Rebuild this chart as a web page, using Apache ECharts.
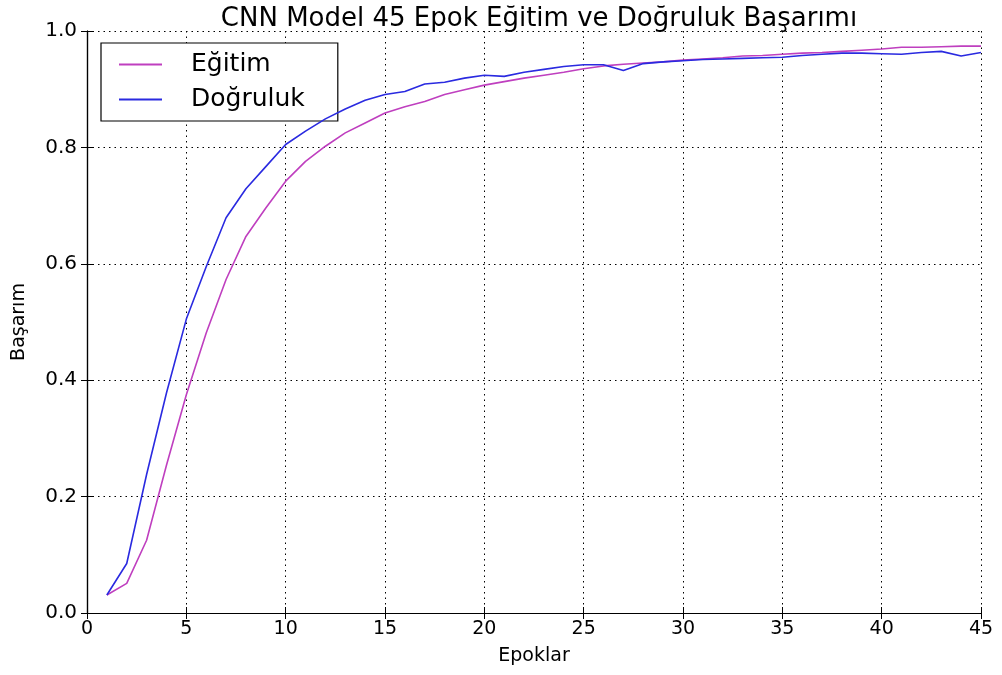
<!DOCTYPE html>
<html>
<head>
<meta charset="utf-8">
<script src="https://cdn.jsdelivr.net/npm/echarts@6/dist/echarts.min.js"></script>
<style>
  html, body { margin: 0; padding: 0; background: #fff; }
  #main { width: 1002px; height: 675px; }
</style>
</head>
<body>
<div id="main"></div>
<script>
// epok numaralari
var epochs = [];
for (var i = 1; i <= 45; i++) epochs.push(i);

// Egitim (train) basarimi
var egitim = [
  0.031, 0.051, 0.125, 0.254, 0.375, 0.481, 0.573, 0.647, 0.696, 0.742,
  0.776, 0.802, 0.825, 0.842, 0.859, 0.870, 0.879, 0.891, 0.899, 0.907,
  0.913, 0.919, 0.924, 0.929, 0.935, 0.940, 0.943, 0.945, 0.947, 0.950,
  0.952, 0.954, 0.957, 0.958, 0.960, 0.962, 0.963, 0.965, 0.967, 0.969,
  0.972, 0.972, 0.973, 0.974, 0.974
];

// Dogruluk (validation) basarimi
var dogruluk = [
  0.031, 0.085, 0.238, 0.378, 0.505, 0.595, 0.679, 0.729, 0.767, 0.805,
  0.828, 0.849, 0.866, 0.881, 0.891, 0.896, 0.909, 0.912, 0.919, 0.924,
  0.922, 0.929, 0.934, 0.939, 0.942, 0.942, 0.932, 0.944, 0.947, 0.949,
  0.951, 0.952, 0.953, 0.954, 0.955, 0.958, 0.960, 0.962, 0.962, 0.961,
  0.960, 0.963, 0.965, 0.957, 0.963
];

var xTicks = [0, 5, 10, 15, 20, 25, 30, 35, 40, 45];

function pairs(vals) {
  return epochs.map(function (e, i) { return [e, vals[i]]; });
}

var font = 'DejaVu Sans';
var axisLine = { show: true, lineStyle: { color: '#000', width: 1.2 } };
var tickIn = { show: true, inside: true, length: 6, lineStyle: { color: '#000', width: 1 } };
var dotted = { show: true, lineStyle: { color: '#000', type: [1.5, 4], width: 1 } };

var myChart = echarts.init(document.getElementById('main'));
var option = {
  backgroundColor: '#fff',
  animation: false,
  title: {
    text: 'CNN Model 45 Epok Eğitim ve Doğruluk Başarımı',
    left: 534,
    textAlign: 'center',
    top: 1,
    textStyle: { fontFamily: font, fontSize: 26, fontWeight: 'normal', color: '#000' }
  },
  legend: {
    left: 101,
    top: 43,
    orient: 'vertical',
    padding: [9, 33, 9, 18],
    itemGap: 10,
    itemWidth: 43,
    itemHeight: 2,
    icon: 'rect',
    borderColor: '#000',
    borderWidth: 1.2,
    backgroundColor: '#fff',
    textStyle: { fontFamily: font, fontSize: 25, color: '#000', padding: [0, 0, 0, 24] },
    data: ['Eğitim', 'Doğruluk']
  },
  grid: { left: 87, right: 21, top: 31, bottom: 62 },
  xAxis: [{
    type: 'value',
    min: 0, max: 45, interval: 5,
    name: 'Epoklar',
    nameLocation: 'middle',
    nameGap: 34,
    nameTextStyle: { fontFamily: font, fontSize: 19, color: '#000' },
    axisLine: axisLine,
    axisTick: tickIn,
    splitLine: dotted,
    axisLabel: {
      fontFamily: font, fontSize: 19, color: '#000', margin: 7,
      customValues: xTicks
    }
  }, {
    type: 'value',
    position: 'top',
    min: 0, max: 45, interval: 5,
    axisLine: axisLine,
    axisTick: tickIn,
    axisLabel: { show: false },
    splitLine: { show: false }
  }],
  yAxis: [{
    type: 'value',
    min: 0, max: 1, interval: 0.2,
    name: 'Başarım',
    nameLocation: 'middle',
    nameGap: 58,
    nameTextStyle: { fontFamily: font, fontSize: 19, color: '#000' },
    axisLine: axisLine,
    axisTick: tickIn,
    splitLine: dotted,
    axisLabel: {
      fontFamily: font, fontSize: 20, color: '#000', margin: 10,
      formatter: function (v) { return v.toFixed(1); }
    }
  }, {
    type: 'value',
    position: 'right',
    min: 0, max: 1, interval: 0.2,
    axisLine: axisLine,
    axisTick: tickIn,
    axisLabel: { show: false },
    splitLine: { show: false }
  }],
  series: [{
    name: 'Eğitim',
    type: 'line',
    xAxisIndex: 0, yAxisIndex: 0,
    data: pairs(egitim),
    showSymbol: false,
    color: '#bf3fbf',
    lineStyle: { width: 1.6, color: '#bf3fbf' },
    z: 3
  }, {
    name: 'Doğruluk',
    type: 'line',
    xAxisIndex: 0, yAxisIndex: 0,
    data: pairs(dogruluk),
    showSymbol: false,
    color: '#2a2ae0',
    lineStyle: { width: 1.6, color: '#2a2ae0' },
    z: 4
  }]
};
myChart.setOption(option);
</script>
</body>
</html>
